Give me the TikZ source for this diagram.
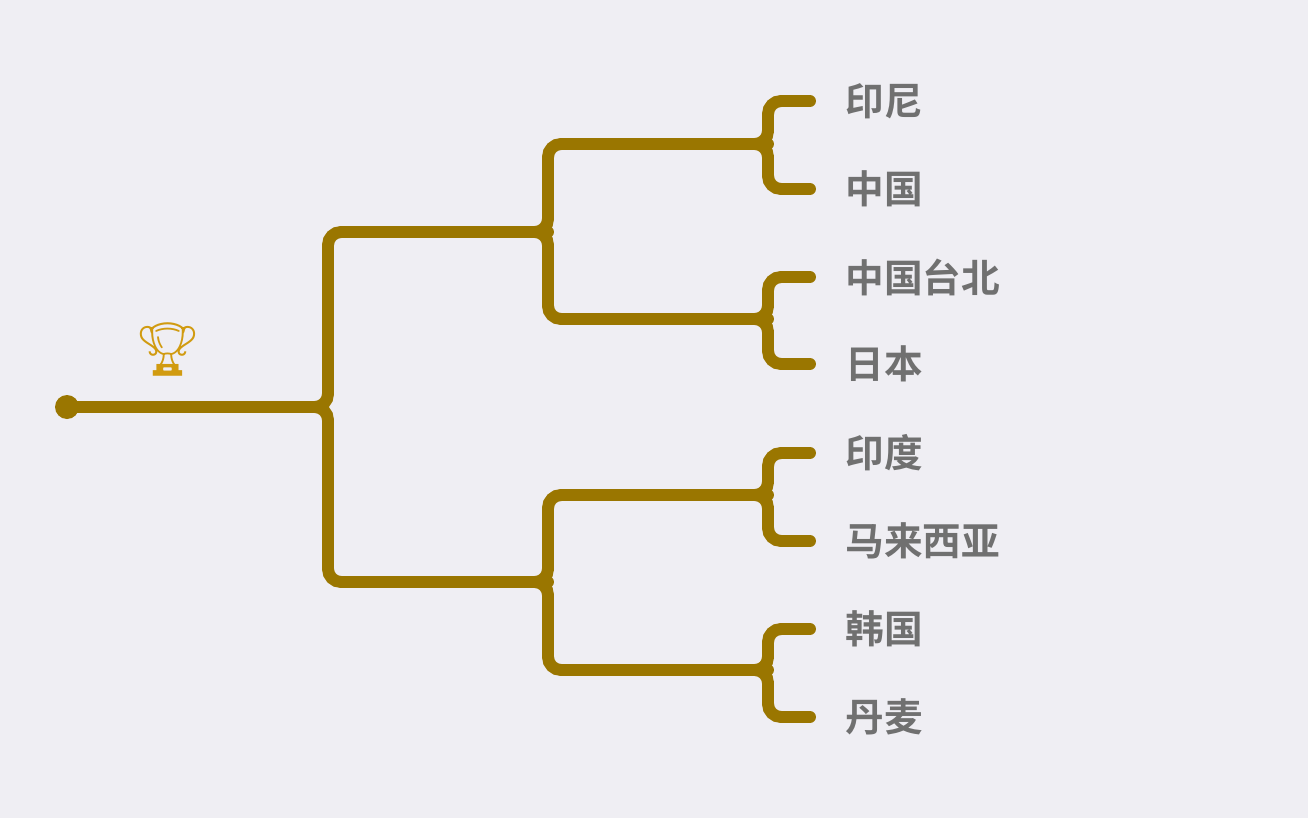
\documentclass[tikz,border=0pt]{standalone}
\usepackage{fontspec}
\newfontfamily\cjk{Noto Sans CJK SC}[BoldFont={Noto Sans CJK SC Bold}]
\newfontfamily\emoji{Noto Emoji}
\usetikzlibrary{positioning}
\definecolor{bracket}{HTML}{9A7600}
\definecolor{bgcol}{HTML}{EFEEF3}
\definecolor{teamtext}{HTML}{707070}
\definecolor{cupcol}{HTML}{D19B10}

\tikzset{
	br/.style={draw=bracket, line width=6.8pt, line cap=round, rounded corners=0.26cm},
	team/.style={anchor=west, inner sep=0pt, text=teamtext, font=\cjk\bfseries\fontsize{22}{26}\selectfont}
}

\begin{document}
\begin{tikzpicture}[x=0.02cm,y=-0.02cm]
	\fill[bgcol] (0,0) rectangle (1308,818);
	\useasboundingbox (0,0) rectangle (1308,818);

	% root and cup
	\node[circle, fill=bracket, inner sep=0pt, minimum size=0.48cm] (root) at (67,407) {};
	\node[text=cupcol, font=\emoji\fontsize{30}{30}\selectfont] (cup) at (168,349) {🏆};

	% junctions
	\coordinate (j1) at (328,407);
	\coordinate (j21) at (548,232);
	\coordinate (j22) at (548,582);
	\coordinate (j31) at (768,144);
	\coordinate (j32) at (768,319);
	\coordinate (j33) at (768,495);
	\coordinate (j34) at (768,670);

	% teams
	\node[team] (t1) at (845,101) {印尼};
	\node[team] (t2) at (845,189) {中国};
	\node[team] (t3) at (845,277) {中国台北};
	\node[team] (t4) at (845,364) {日本};
	\node[team] (t5) at (845,453) {印度};
	\node[team] (t6) at (845,541) {马来西亚};
	\node[team] (t7) at (845,629) {韩国};
	\node[team] (t8) at (845,717) {丹麦};

	% round 1
	\draw[br] (j21) -| (j1) -- (root.center);
	\draw[br] (j22) -| (j1) -- (root.center);
	% round 2
	\draw[br] (j31) -| (j21) -- ++(-60,0);
	\draw[br] (j32) -| (j21) -- ++(-60,0);
	\draw[br] (j33) -| (j22) -- ++(-60,0);
	\draw[br] (j34) -| (j22) -- ++(-60,0);
	% round 3
	\draw[br] ([xshift=-0.7cm]t1.west) -| (j31) -- ++(-60,0);
	\draw[br] ([xshift=-0.7cm]t2.west) -| (j31) -- ++(-60,0);
	\draw[br] ([xshift=-0.7cm]t3.west) -| (j32) -- ++(-60,0);
	\draw[br] ([xshift=-0.7cm]t4.west) -| (j32) -- ++(-60,0);
	\draw[br] ([xshift=-0.7cm]t5.west) -| (j33) -- ++(-60,0);
	\draw[br] ([xshift=-0.7cm]t6.west) -| (j33) -- ++(-60,0);
	\draw[br] ([xshift=-0.7cm]t7.west) -| (j34) -- ++(-60,0);
	\draw[br] ([xshift=-0.7cm]t8.west) -| (j34) -- ++(-60,0);
\end{tikzpicture}
\end{document}
